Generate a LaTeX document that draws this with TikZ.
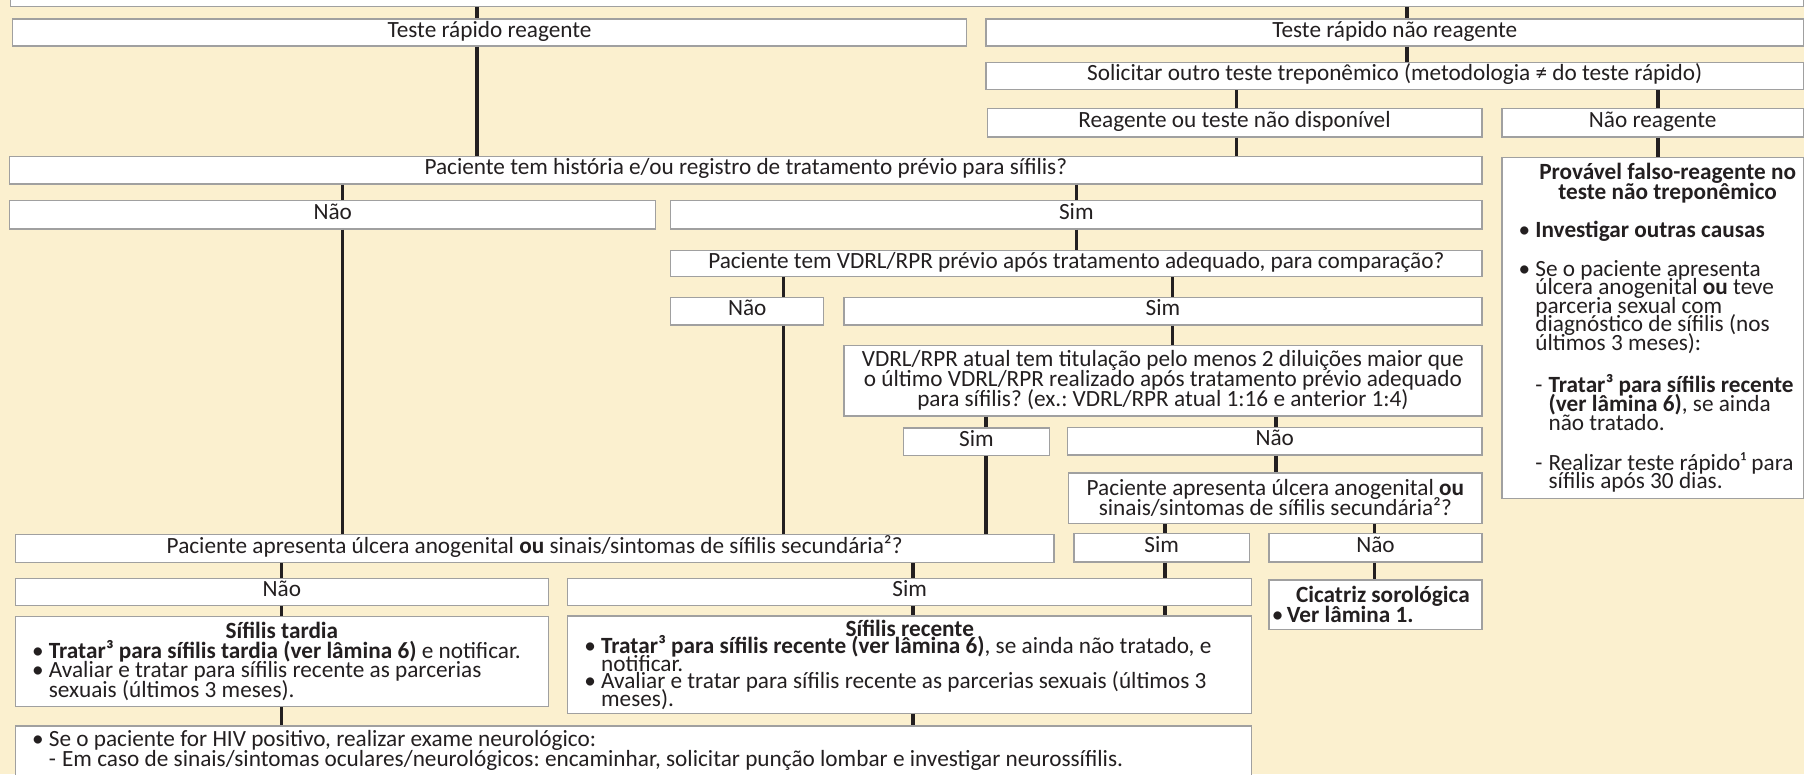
\documentclass[tikz,border=0pt]{standalone}
\usepackage{fontspec}
\setmainfont{Carlito}

\definecolor{paper}{RGB}{251,240,207}
\definecolor{rim}{RGB}{160,160,160}
\definecolor{ink}{RGB}{35,31,32}

% list helpers: bullet / dash items with a hanging text column
\newcommand{\bul}{\hspace*{15pt}\makebox[9pt][c]{•}\hspace*{5pt}}
\newcommand{\cont}{\hspace*{29pt}}
\newcommand{\dsh}{\hspace*{29pt}\makebox[11.5pt][l]{-}}
\newcommand{\dcont}{\hspace*{40.5pt}}
% text size with a fixed line pitch
\newcommand{\txt}[1]{\fontsize{20.2pt}{#1}\selectfont\lineskiplimit=-60pt\frenchspacing}

\tikzset{
  base/.style={draw=rim, line width=1.1pt, fill=white, inner sep=0pt,
               text=ink, font=\txt{17pt}},
  box/.style={base, text height=12.5pt, text depth=4.5pt},
  tbox/.style={base, align=flush left, text width=#1},
  cbox/.style={base, align=flush center, text width=#1},
  % a box given by its left, top, right and bottom edges
  cell/.style n args={4}{at={({(#1+#3)/2},{(#2+#4)/2})}, anchor=center,
      minimum width={(#3-#1)*1pt}, minimum height={(#4-#2)*1pt}},
  link/.style={draw=ink, line width=2.8pt},
}

\begin{document}
\begin{tikzpicture}[x=1pt, y=-1pt]
\useasboundingbox (0,0) rectangle (1568,673);
\fill[paper] (0,0) rectangle (1568,673);

% ---- boxes ----
\node[base, cell={9}{-20}{1567.5}{5.5}] (top) {};

\node[box, cell={11}{16.5}{840}{40}] (trr) {Teste rápido reagente};
\node[box, cell={857}{16.5}{1567.5}{40}] (trnr) {Teste rápido não reagente};
\node[box, cell={857}{54}{1567.5}{78}] (sol)
  {Solicitar outro teste treponêmico (metodologia ≠ do teste rápido)};
\node[box, cell={858}{94.5}{1288}{119}] (rnd) {Reagente ou teste não disponível};
\node[box, cell={1305.5}{94.5}{1567.5}{119}] (nr) {Não reagente};

\node[box, cell={8.5}{136}{1288}{160}] (ph)
  {Paciente tem história e/ou registro de tratamento prévio para sífilis?};

\node[tbox=262pt, font=\txt{16.2pt},
      cell={1305.5}{137}{1567.5}{433}] (prov) {%
\makebox[262pt]{\hspace{26pt}\bfseries Provável falso-reagente no}\\[1.2pt]
\makebox[262pt]{\hspace{26pt}\bfseries teste não treponêmico}\\[17.1pt]
\bul\textbf{Investigar outras causas}\\[17.1pt]
\bul Se o paciente apresenta\\
\cont úlcera anogenital \textbf{ou} teve\\
\cont parceria sexual com\\
\cont diagnóstico de sífilis (nos\\
\cont últimos 3 meses):\\[20.6pt]
\dsh\textbf{Tratar³ para sífilis recente}\\
\dcont\textbf{(ver lâmina 6)}, se ainda\\
\dcont não tratado.\\[18.6pt]
\dsh Realizar teste rápido¹ para\\
\dcont sífilis após 30 dias.};

\node[box, cell={8.5}{174.5}{570}{199}] (nao1) {Não};
\node[box, cell={583}{174.5}{1288}{199}] (sim1) {Sim};
\node[box, cell={583}{217.5}{1288}{240.5}] (vp)
  {Paciente tem VDRL/RPR prévio após tratamento adequado, para comparação?};
\node[box, cell={583}{258.5}{716}{282.5}] (nao2) {Não};
\node[box, cell={733.5}{258.5}{1288}{282.5}] (sim2) {Sim};
\node[cbox=554pt, font=\txt{17.4pt},
      cell={733.5}{300}{1288}{361.5}] (va)
  {VDRL/RPR atual tem titulação pelo menos 2 diluições maior que\\
   o último VDRL/RPR realizado após tratamento prévio adequado\\
   para sífilis? (ex.: VDRL/RPR atual 1:16 e anterior 1:4)};
\node[box, cell={785}{372}{912.5}{396}] (sim3) {Sim};
\node[box, cell={928}{371.5}{1288}{395.5}] (nao3) {Não};
\node[cbox=359pt, font=\txt{17.4pt},
      cell={929}{411}{1288}{455}] (pa2)
  {Paciente apresenta úlcera anogenital \textbf{ou}\\
   sinais/sintomas de sífilis secundária²?};

\node[box, cell={13.5}{464.5}{916}{489}] (pa1)
  {Paciente apresenta úlcera anogenital \textbf{ou} sinais/sintomas de sífilis secundária²?};
\node[box, cell={933.5}{464}{1086}{488.5}] (sim4) {Sim};
\node[box, cell={1103}{464}{1288}{488.5}] (nao4) {Não};

\node[box, cell={13.5}{503}{476.5}{526.5}] (nao5) {Não};
\node[box, cell={493.5}{503}{1088}{526.5}] (sim5) {Sim};
\node[tbox=185pt, font=\txt{17.4pt},
      cell={1103}{504}{1288}{547}] (cic) {%
\makebox[185pt]{\hspace{13pt}\bfseries Cicatriz sorológica}\\
\hspace*{3pt}\makebox[9pt][c]{•}\hspace*{3.5pt}\textbf{Ver lâmina 1.}};

\node[tbox=463pt, font=\txt{16.9pt},
      cell={13.5}{536}{476.5}{614}] (tardia) {%
\makebox[463pt]{\bfseries Sífilis tardia}\\
\bul\textbf{Tratar³ para sífilis tardia (ver lâmina 6)} e notificar.\\
\bul Avaliar e tratar para sífilis recente as parcerias\\
\cont sexuais (últimos 3 meses).};

\node[tbox=594.5pt, font=\txt{15.3pt},
      cell={493.5}{535.5}{1088}{620}] (recente) {%
\makebox[594.5pt]{\bfseries Sífilis recente}\\
\bul\textbf{Tratar³ para sífilis recente (ver lâmina 6)}, se ainda não tratado, e\\
\cont notificar.\\
\bul Avaliar e tratar para sífilis recente as parcerias sexuais (últimos 3\\
\cont meses).};

\node[base, cell={13.5}{631}{1088}{700}] (hiv) {%
\parbox[c][66pt][t]{1074.5pt}{\txt{17.6pt}\vspace*{2.5pt}
\bul Se o paciente for HIV positivo, realizar exame neurológico:\\
\dsh Em caso de sinais/sintomas oculares/neurológicos: encaminhar, solicitar punção lombar e investigar neurossífilis.}};

% ---- columns of the connectors ----
\coordinate (xa) at (414.5,0);
\coordinate (xb) at (1223,0);
\coordinate (xc) at (1075,0);
\coordinate (xd) at (1441,0);
\coordinate (xe) at (298,0);
\coordinate (xf) at (935.5,0);
\coordinate (xg) at (681,0);
\coordinate (xh) at (1019,0);
\coordinate (xi) at (857,0);
\coordinate (xj) at (1109,0);
\coordinate (xk) at (1012.5,0);
\coordinate (xl) at (1194.5,0);
\coordinate (xm) at (245,0);
\coordinate (xn) at (793.5,0);

% ---- connectors ----
\draw[link] (top.south -| xa) -- (trr.north -| xa);
\draw[link] (top.south -| xb) -- (trnr.north -| xb);
\draw[link] (trr.south -| xa) -- (ph.north -| xa);
\draw[link] (trnr.south -| xb) -- (sol.north -| xb);
\draw[link] (sol.south -| xc) -- (rnd.north -| xc);
\draw[link] (sol.south -| xd) -- (nr.north -| xd);
\draw[link] (rnd.south -| xc) -- (ph.north -| xc);
\draw[link] (nr.south -| xd) -- (prov.north -| xd);
\draw[link] (ph.south -| xe) -- (nao1.north -| xe);
\draw[link] (ph.south -| xf) -- (sim1.north -| xf);
\draw[link] (nao1.south -| xe) -- (pa1.north -| xe);
\draw[link] (sim1.south -| xf) -- (vp.north -| xf);
\draw[link] (vp.south -| xg) -- (nao2.north -| xg);
\draw[link] (vp.south -| xh) -- (sim2.north -| xh);
\draw[link] (nao2.south -| xg) -- (pa1.north -| xg);
\draw[link] (sim2.south -| xh) -- (va.north -| xh);
\draw[link] (va.south -| xi) -- (sim3.north -| xi);
\draw[link] (va.south -| xj) -- (nao3.north -| xj);
\draw[link] (sim3.south -| xi) -- (pa1.north -| xi);
\draw[link] (nao3.south -| xj) -- (pa2.north -| xj);
\draw[link] (pa2.south -| xk) -- (sim4.north -| xk);
\draw[link] (pa2.south -| xl) -- (nao4.north -| xl);
\draw[link] (sim4.south -| xk) -- (sim5.north -| xk);
\draw[link] (nao4.south -| xl) -- (cic.north -| xl);
\draw[link] (pa1.south -| xm) -- (nao5.north -| xm);
\draw[link] (pa1.south -| xn) -- (sim5.north -| xn);
\draw[link] (nao5.south -| xm) -- (tardia.north -| xm);
\draw[link] (sim5.south -| xn) -- (recente.north -| xn);
\draw[link] (sim5.south -| xk) -- (recente.north -| xk);
\draw[link] (tardia.south -| xm) -- (hiv.north -| xm);
\draw[link] (recente.south -| xn) -- (hiv.north -| xn);
\end{tikzpicture}
\end{document}
